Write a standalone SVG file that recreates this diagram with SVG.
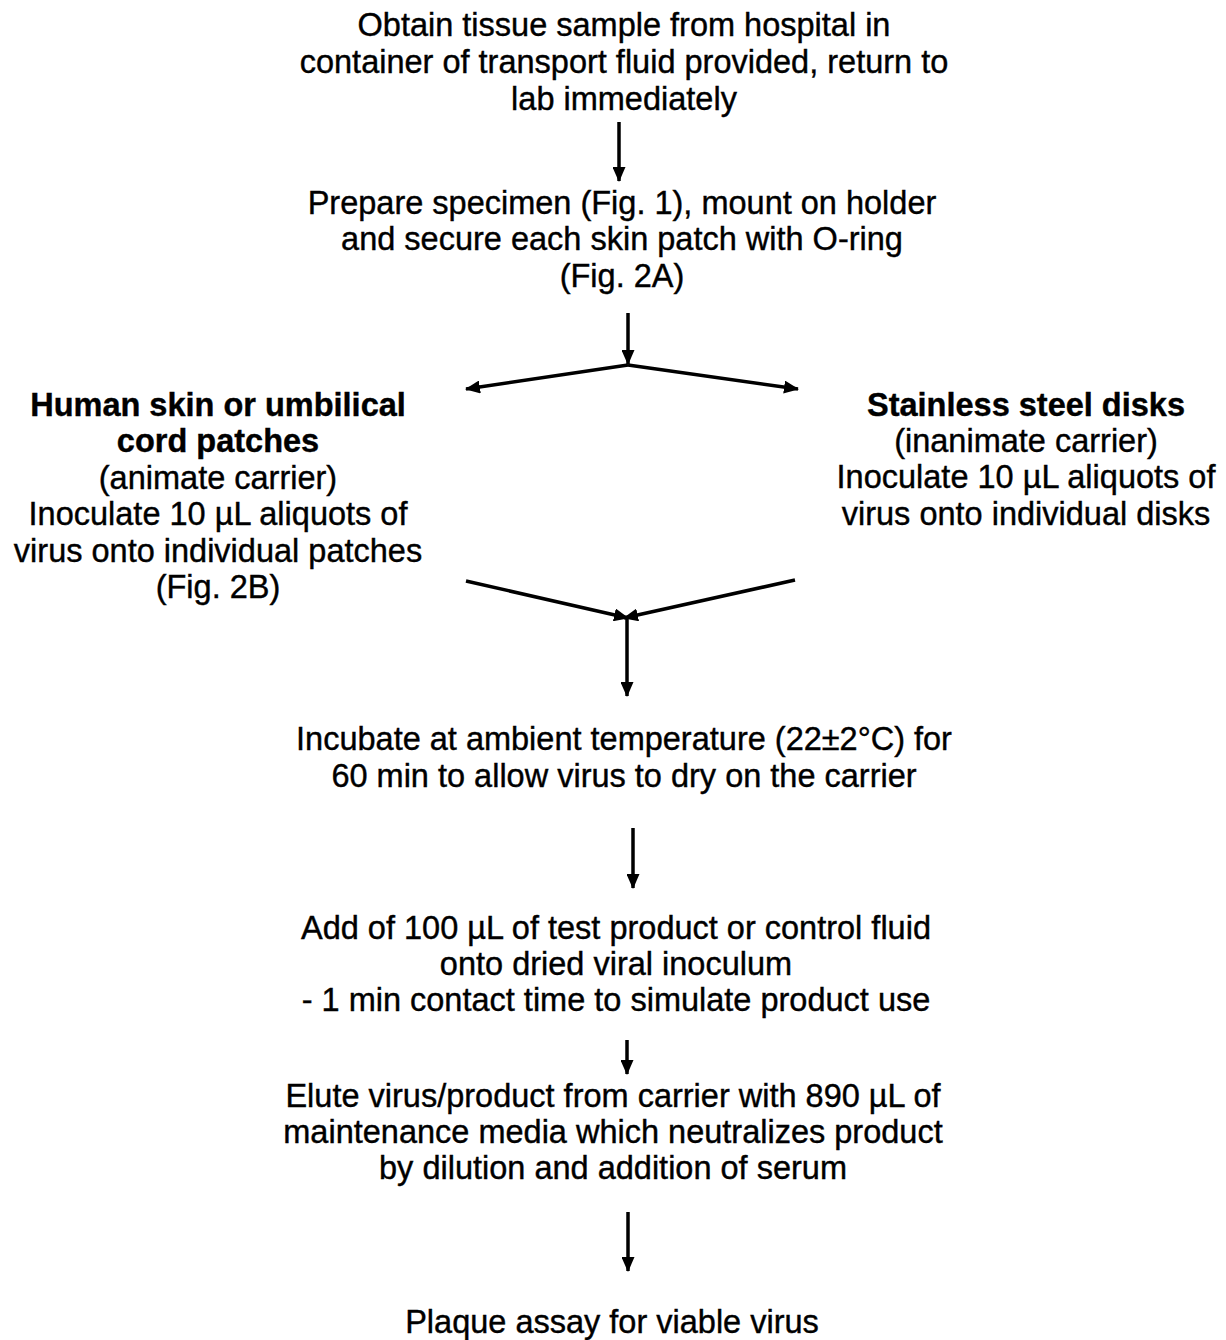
<svg xmlns="http://www.w3.org/2000/svg" width="1226" height="1340" viewBox="0 0 1226 1340">
<defs>
<style>
text{font-family:"Liberation Sans",Arial,sans-serif;font-size:32.5px;fill:#000;stroke:#000;stroke-width:0.4;text-anchor:middle}
.b{font-weight:bold}
.c line{stroke:#000;stroke-width:3.5;fill:none}
</style>
<marker id="ah" viewBox="0 0 15 13" refX="14" refY="6.5" markerWidth="15" markerHeight="13" markerUnits="userSpaceOnUse" orient="auto">
<path d="M0,0 L15,6.5 L0,13 Z" fill="#000"/>
</marker>
</defs>
<rect width="1226" height="1340" fill="#fff"/>
<g id="n1">
<text x="624" y="36">Obtain tissue sample from hospital in</text>
<text x="624" y="73">container of transport fluid provided, return to</text>
<text x="624" y="110">lab immediately</text>
</g>
<g id="n2">
<text x="622" y="214">Prepare specimen (Fig. 1), mount on holder</text>
<text x="622" y="250">and secure each skin patch with O-ring</text>
<text x="622" y="287">(Fig. 2A)</text>
</g>
<g id="n3">
<text x="218" y="416" class="b">Human skin or umbilical</text>
<text x="218" y="452" class="b">cord patches</text>
<text x="218" y="489">(animate carrier)</text>
<text x="218" y="525">Inoculate 10 µL aliquots of</text>
<text x="218" y="562">virus onto individual patches</text>
<text x="218" y="598">(Fig. 2B)</text>
</g>
<g id="n4">
<text x="1026" y="416" class="b">Stainless steel disks</text>
<text x="1026" y="452">(inanimate carrier)</text>
<text x="1026" y="488">Inoculate 10 µL aliquots of</text>
<text x="1026" y="525">virus onto individual disks</text>
</g>
<g id="n5">
<text x="624" y="750">Incubate at ambient temperature (22±2°C) for</text>
<text x="624" y="787">60 min to allow virus to dry on the carrier</text>
</g>
<g id="n6">
<text x="616" y="939">Add of 100 µL of test product or control fluid</text>
<text x="616" y="975">onto dried viral inoculum</text>
<text x="616" y="1011">- 1 min contact time to simulate product use</text>
</g>
<g id="n7">
<text x="613" y="1107">Elute virus/product from carrier with 890 µL of</text>
<text x="613" y="1143">maintenance media which neutralizes product</text>
<text x="613" y="1179">by dilution and addition of serum</text>
</g>
<g id="n8">
<text x="612" y="1333">Plaque assay for viable virus</text>
</g>
<g id="connectors" class="c">
<line x1="619" y1="122" x2="619" y2="181" marker-end="url(#ah)"/>
<line x1="628" y1="313" x2="628" y2="364" marker-end="url(#ah)"/>
<line x1="628" y1="365" x2="466" y2="389" marker-end="url(#ah)"/>
<line x1="628" y1="365" x2="798" y2="389" marker-end="url(#ah)"/>
<line x1="466" y1="581" x2="628" y2="618" marker-end="url(#ah)"/>
<line x1="795" y1="580" x2="624" y2="618" marker-end="url(#ah)"/>
<line x1="627" y1="619" x2="627" y2="696" marker-end="url(#ah)"/>
<line x1="633" y1="828" x2="633" y2="888" marker-end="url(#ah)"/>
<line x1="627" y1="1040" x2="627" y2="1074" marker-end="url(#ah)"/>
<line x1="628" y1="1212" x2="628" y2="1271" marker-end="url(#ah)"/>
</g>
</svg>
